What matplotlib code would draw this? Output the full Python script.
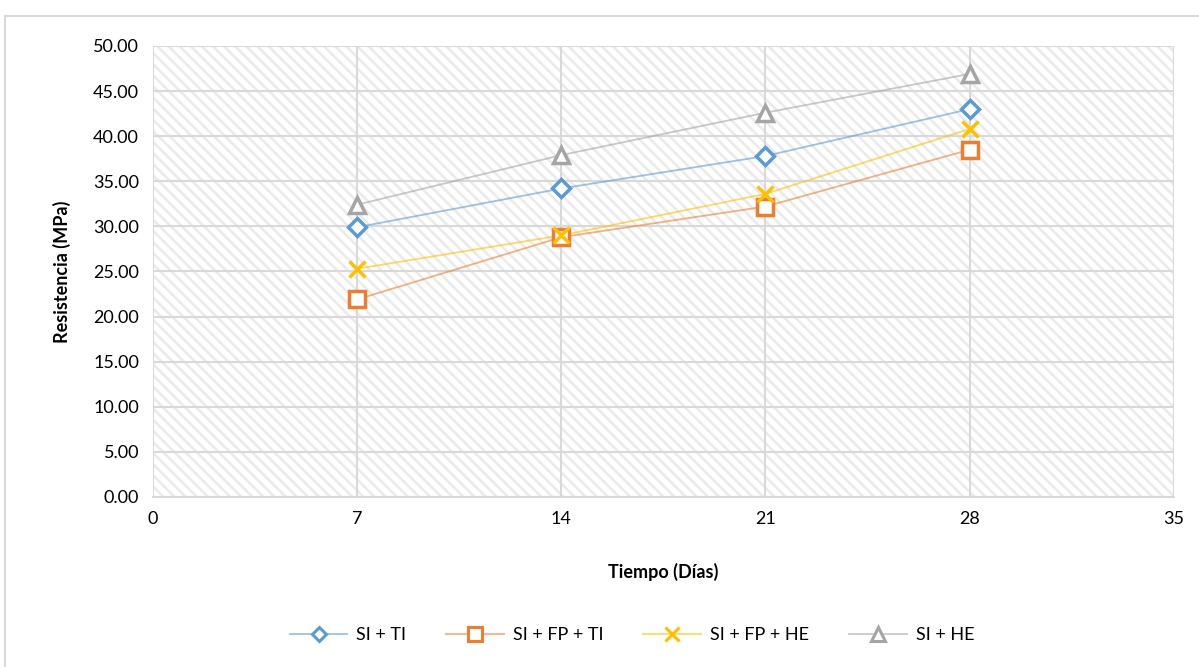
import matplotlib
matplotlib.use("Agg")
import matplotlib.pyplot as plt
from matplotlib.lines import Line2D
from matplotlib.patches import Rectangle

# Resistencia a compresion por dosificacion
dias = [7, 14, 21, 28]
si_ti = [29.9, 34.2, 37.8, 43.0]
si_fp_ti = [21.9, 28.8, 32.2, 38.5]
si_fp_he = [25.3, 29.0, 33.6, 40.8]
si_he = [32.4, 37.9, 42.6, 46.9]

series = [
    ("SI + TI", si_ti, "#5B9BD5", "D", 9),
    ("SI + FP + TI", si_fp_ti, "#ED7D31", "s", 12),
    ("SI + FP + HE", si_fp_he, "#FFC000", "x", 12),
    ("SI + HE", si_he, "#A5A5A5", "^", 12),
]

x_ticks = [0, 7, 14, 21, 28, 35]
y_ticks = [0, 5, 10, 15, 20, 25, 30, 35, 40, 45, 50]

plt.rcParams["font.family"] = ["Lato", "DejaVu Sans"]
plt.rcParams["hatch.linewidth"] = 1.9
plt.rcParams["hatch.color"] = "#ebebeb"

fig = plt.figure(figsize=(11.99, 6.67), dpi=100)
ax = fig.add_axes([0.1276, 0.2549, 0.8514, 0.6762])

# fondo rayado del area de trazado
ax.patch.set_facecolor("white")
ax.add_patch(Rectangle((0, 0), 1, 1, transform=ax.transAxes, facecolor="white",
                       edgecolor="#ebebeb", hatch="\\\\\\", lw=0, zorder=0))

for name, vals, color, marker, ms in series:
    ax.plot(dias, vals, color=color, lw=1.3, alpha=0.6, zorder=3)
    if marker == "x":
        ax.plot(dias, vals, ls="none", marker=marker, ms=ms, mew=2.5,
                color=color, zorder=4)
    else:
        ax.plot(dias, vals, ls="none", marker=marker, ms=ms, mew=2.5,
                mec=color, mfc="white", zorder=4)

# entradas de leyenda: linea clara con marcador opaco
handles = []
for name, vals, color, marker, ms in series:
    line_color = matplotlib.colors.to_rgba(color, 0.6)
    handles.append(Line2D([], [], color=line_color, lw=1.3, marker=marker,
                          ms=ms * 0.8, mew=2.2, mec=color, mfc="white",
                          label=name))

ax.set_xlim(0, 35)
ax.set_ylim(0, 50)
ax.set_xticks(x_ticks)
ax.set_yticks(y_ticks)
ax.set_yticklabels([f"{v:.2f}" for v in y_ticks])
ax.tick_params(length=0, labelsize=13, colors="#000000", pad=10)
ax.grid(True, color="#d9d9d9", lw=1.5, zorder=1)
ax.set_axisbelow(True)
for s in ax.spines.values():
    s.set_visible(False)
ax.spines["bottom"].set_visible(True)
ax.spines["bottom"].set_color("#d9d9d9")
ax.spines["bottom"].set_linewidth(1.5)

ax.set_xlabel("Tiempo (Días)", fontsize=13, fontweight="bold", labelpad=26)
ax.set_ylabel("Resistencia (MPa)", fontsize=13, fontweight="bold", labelpad=16)

fig.legend(handles=handles, loc="center", bbox_to_anchor=(0.527, 0.048), ncol=4,
           frameon=False, fontsize=13, handlelength=3.2, columnspacing=2.2,
           handletextpad=0.5)

# borde exterior del grafico (arriba e izquierda)
border = dict(color="#d9d9d9", lw=1.5, transform=fig.transFigure)
fig.lines.append(Line2D([5 / 1199, 1], [1 - 16 / 667, 1 - 16 / 667], **border))
fig.lines.append(Line2D([5 / 1199, 5 / 1199], [0, 1 - 16 / 667], **border))

fig.savefig("out.png", dpi=100)
